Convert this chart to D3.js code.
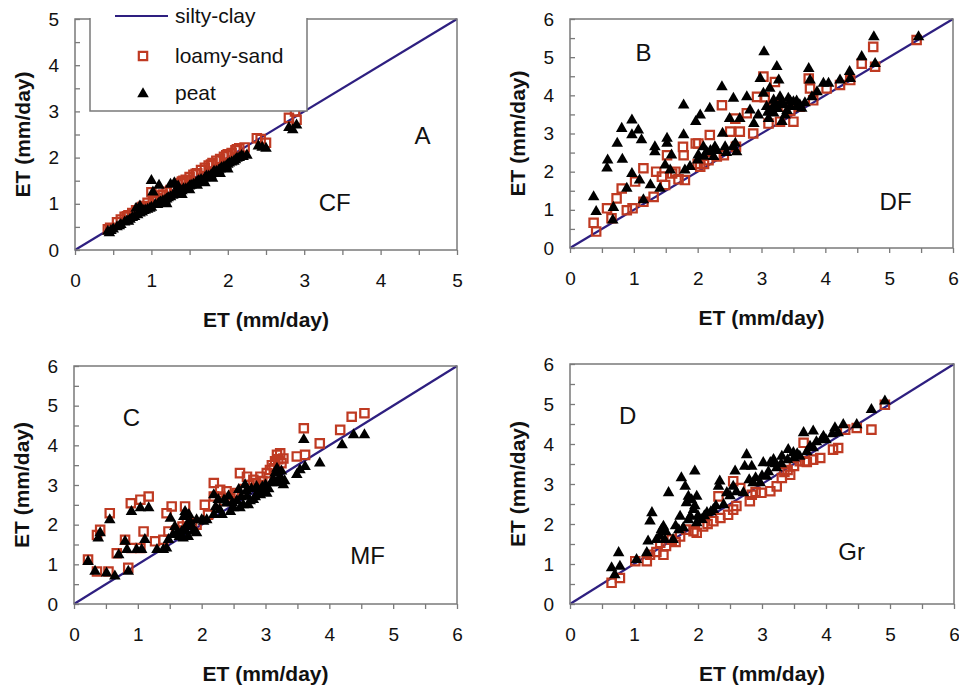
<!DOCTYPE html>
<html>
<head>
<meta charset="utf-8">
<script src="https://cdn.jsdelivr.net/npm/d3@7"></script>
<style>
  body { margin: 0; background: #fff; }
  svg text { font-family: "Liberation Sans", Arial, sans-serif; fill: #111; }
</style>
</head>
<body>
<div id="chart"></div>
<script>
// ET values, [x, y] in mm/day
const cfLoamy = [[0.43,0.45],[0.46,0.48],[0.55,0.6],[0.6,0.66],[0.65,0.72],[0.68,0.73],[0.7,0.75],[0.75,0.8],[0.8,0.86],[0.85,0.9],[0.88,0.93],[0.9,0.95],[0.95,1.02],[1.0,1.25],[1.02,1.06],[1.05,1.1],[1.08,1.12],[1.12,1.18],[1.15,1.2],[1.2,1.26],[1.25,1.3],[1.3,1.36],[1.35,1.42],[1.38,1.45],[1.4,1.48],[1.42,1.5],[1.45,1.52],[1.5,1.58],[1.55,1.63],[1.58,1.65],[1.6,1.66],[1.65,1.73],[1.7,1.78],[1.75,1.83],[1.78,1.85],[1.8,1.88],[1.85,1.93],[1.9,1.97],[1.95,2.02],[1.98,2.05],[2.0,2.07],[2.05,2.1],[2.1,2.16],[2.12,2.18],[2.15,2.2],[2.22,2.22],[2.38,2.42],[2.43,2.4],[2.5,2.32],[2.8,2.86],[2.88,3.0],[2.9,2.82]];
const cfPeat = [[0.43,0.4],[0.45,0.37],[0.47,0.42],[0.5,0.45],[0.55,0.5],[0.58,0.52],[0.6,0.55],[0.65,0.6],[0.68,0.63],[0.7,0.62],[0.72,0.66],[0.75,0.7],[0.78,0.72],[0.8,0.9],[0.82,0.76],[0.85,0.8],[0.85,0.95],[0.88,0.82],[0.9,0.85],[0.92,0.86],[0.95,0.88],[0.98,0.9],[1.0,1.5],[1.02,1.25],[1.0,0.92],[1.05,0.98],[1.08,0.98],[1.1,1.4],[1.1,1.02],[1.12,1.04],[1.15,1.06],[1.18,1.08],[1.2,1.1],[1.2,1.0],[1.22,1.13],[1.25,1.15],[1.25,1.42],[1.28,1.18],[1.3,1.45],[1.3,1.2],[1.32,1.23],[1.35,1.22],[1.35,1.38],[1.38,1.26],[1.4,1.28],[1.4,1.2],[1.42,1.32],[1.45,1.32],[1.48,1.34],[1.5,1.38],[1.5,1.3],[1.52,1.4],[1.55,1.42],[1.58,1.44],[1.6,1.48],[1.6,1.4],[1.62,1.5],[1.65,1.52],[1.68,1.5],[1.7,1.56],[1.7,1.45],[1.72,1.6],[1.75,1.6],[1.78,1.62],[1.8,1.65],[1.8,1.55],[1.82,1.7],[1.85,1.7],[1.88,1.72],[1.9,1.75],[1.9,1.65],[1.92,1.78],[1.95,1.8],[1.98,1.82],[2.0,1.85],[2.0,1.75],[2.02,1.88],[2.05,1.9],[2.08,1.92],[2.1,1.95],[2.12,1.98],[2.15,2.0],[2.18,2.04],[2.2,2.02],[2.25,2.05],[2.4,2.25],[2.45,2.22],[2.5,2.2],[2.8,2.65],[2.85,2.6],[2.9,2.7]];

const dfLoamy = [[0.37,0.66],[0.41,0.43],[0.58,1.04],[0.65,0.78],[0.73,1.3],[0.81,1.56],[0.89,0.99],[0.98,1.04],[1.02,1.74],[1.15,2.09],[1.15,1.21],[1.31,1.34],[1.35,2.0],[1.44,1.87],[1.49,1.65],[1.52,2.43],[1.6,1.95],[1.65,2.0],[1.7,1.8],[1.77,2.65],[1.78,2.43],[1.8,1.78],[1.97,2.74],[2.0,2.2],[2.01,2.74],[2.04,2.13],[2.1,2.2],[2.19,2.96],[2.17,2.3],[2.3,2.4],[2.38,3.74],[2.41,2.43],[2.51,3.05],[2.59,3.39],[2.6,2.65],[2.66,3.05],[2.77,3.53],[2.87,3.0],[2.93,3.96],[3.03,4.49],[3.05,3.95],[3.11,3.26],[3.19,3.7],[3.21,4.35],[3.25,3.75],[3.29,3.31],[3.34,3.7],[3.45,3.6],[3.5,3.31],[3.6,3.7],[3.74,4.44],[3.76,4.18],[3.81,3.87],[4.02,4.18],[4.23,4.27],[4.39,4.4],[4.57,4.83],[4.75,5.27],[4.78,4.75],[5.43,5.45]];
const dfPeat = [[0.37,1.34],[0.41,0.95],[0.59,2.3],[0.58,2.09],[0.68,1.06],[0.67,0.73],[0.74,2.74],[0.81,3.13],[0.82,2.32],[0.89,1.56],[0.97,3.35],[0.97,2.96],[0.97,1.95],[1.07,3.09],[1.12,2.83],[1.09,1.78],[1.15,1.26],[1.26,1.65],[1.33,2.65],[1.33,2.52],[1.41,1.56],[1.52,2.87],[1.52,2.74],[1.49,2.17],[1.57,2.04],[1.59,2.43],[1.78,3.74],[1.78,2.96],[1.8,2.04],[1.88,2.13],[1.97,3.31],[2.0,2.3],[2.04,3.48],[2.01,2.43],[2.09,2.65],[2.1,2.4],[2.14,2.52],[2.19,3.66],[2.2,2.55],[2.25,2.39],[2.27,2.65],[2.3,2.55],[2.38,4.22],[2.39,3.0],[2.43,2.65],[2.45,2.5],[2.5,3.39],[2.55,2.65],[2.56,3.92],[2.59,2.74],[2.61,2.52],[2.66,3.39],[2.77,3.96],[2.82,3.61],[2.88,3.26],[2.95,3.48],[2.98,4.44],[3.04,5.14],[3.03,4.05],[3.08,3.7],[3.1,3.55],[3.11,3.39],[3.13,4.18],[3.15,3.6],[3.19,3.87],[3.19,3.53],[3.2,3.75],[3.24,4.75],[3.25,3.65],[3.27,4.4],[3.29,3.96],[3.3,3.8],[3.32,3.31],[3.35,3.75],[3.37,3.48],[3.4,3.6],[3.42,3.92],[3.45,3.7],[3.45,3.85],[3.5,3.83],[3.55,3.7],[3.55,3.85],[3.6,3.75],[3.63,3.66],[3.68,3.8],[3.74,4.7],[3.76,4.4],[3.79,3.96],[3.87,4.09],[3.97,4.31],[4.05,4.31],[4.23,4.4],[4.38,4.62],[4.39,4.44],[4.57,5.01],[4.76,5.53],[4.78,4.83],[5.46,5.53]];

const mfLoamy = [[0.22,1.12],[0.36,1.74],[0.41,1.87],[0.56,2.29],[0.54,0.82],[0.36,0.82],[0.67,1.28],[0.8,1.62],[0.85,0.91],[0.89,2.54],[0.9,1.41],[1.04,2.63],[1.09,1.83],[1.17,2.71],[1.04,1.41],[1.27,1.58],[1.4,1.62],[1.45,2.29],[1.53,2.46],[1.48,1.83],[1.6,1.85],[1.7,1.95],[1.74,2.46],[1.77,2.08],[1.85,2.05],[1.92,2.0],[2.05,2.5],[2.1,2.25],[2.19,3.05],[2.19,2.71],[2.29,2.71],[2.29,2.88],[2.35,2.6],[2.39,2.84],[2.45,2.67],[2.5,2.75],[2.55,2.8],[2.6,3.3],[2.66,2.9],[2.71,3.21],[2.75,3.0],[2.81,3.13],[2.85,3.05],[2.92,3.21],[2.95,3.1],[3.02,3.3],[3.07,3.38],[3.1,3.5],[3.13,3.42],[3.15,3.6],[3.18,3.76],[3.2,3.65],[3.23,3.8],[3.25,3.55],[3.28,3.67],[3.49,3.72],[3.6,4.43],[3.62,3.76],[3.85,4.05],[4.17,4.39],[4.35,4.72],[4.55,4.81]];
const mfPeat = [[0.22,1.07],[0.33,0.82],[0.38,1.66],[0.41,1.79],[0.51,0.78],[0.56,2.12],[0.64,0.7],[0.7,1.24],[0.8,1.58],[0.85,0.82],[0.9,2.33],[0.83,1.37],[0.98,1.37],[1.04,2.42],[1.06,1.37],[1.11,1.62],[1.17,2.42],[1.3,1.37],[1.4,1.37],[1.45,1.41],[1.51,2.16],[1.48,1.62],[1.55,1.75],[1.58,1.95],[1.61,1.79],[1.65,1.7],[1.69,1.83],[1.71,1.66],[1.72,2.2],[1.74,2.33],[1.75,1.85],[1.77,2.0],[1.79,1.7],[1.8,2.25],[1.82,2.08],[1.85,1.95],[1.87,1.83],[1.92,1.79],[1.92,2.12],[2.0,2.12],[2.03,2.08],[2.08,2.12],[2.19,2.75],[2.19,2.25],[2.22,2.45],[2.26,2.63],[2.28,2.38],[2.32,2.25],[2.35,2.62],[2.39,2.54],[2.42,2.72],[2.45,2.33],[2.48,2.55],[2.5,2.42],[2.55,2.6],[2.58,2.88],[2.6,2.42],[2.62,2.7],[2.65,2.5],[2.68,3.0],[2.7,2.85],[2.71,2.71],[2.73,2.5],[2.76,2.6],[2.78,2.9],[2.81,2.63],[2.84,2.7],[2.86,2.96],[2.88,2.82],[2.92,2.75],[2.95,2.95],[2.97,2.84],[3.0,3.0],[3.02,2.79],[3.05,2.9],[3.1,3.05],[3.12,3.15],[3.15,3.3],[3.18,3.42],[3.2,3.1],[3.23,3.21],[3.18,3.05],[3.25,3.35],[3.28,3.0],[3.3,3.1],[3.49,3.26],[3.54,3.38],[3.6,4.14],[3.62,3.46],[3.85,3.55],[4.2,4.01],[4.38,4.26],[4.55,4.26]];

const grLoamy = [[0.65,0.53],[0.78,0.65],[1.02,1.07],[1.2,1.07],[1.25,1.23],[1.35,1.3],[1.46,1.23],[1.41,1.53],[1.5,1.45],[1.59,1.61],[1.65,1.55],[1.72,1.69],[1.82,1.86],[1.93,1.82],[1.98,1.78],[2.08,1.94],[2.15,2.0],[2.24,2.07],[2.32,2.69],[2.35,2.15],[2.47,2.23],[2.55,2.36],[2.55,3.07],[2.6,2.45],[2.66,2.9],[2.81,2.57],[2.84,2.73],[2.9,2.8],[2.99,2.78],[3.13,2.82],[3.23,2.94],[3.31,3.15],[3.35,3.3],[3.4,3.35],[3.44,3.23],[3.5,3.45],[3.59,3.57],[3.67,3.57],[3.65,4.03],[3.7,3.55],[3.8,3.61],[3.91,3.65],[4.11,3.86],[4.19,3.9],[4.3,4.36],[4.48,4.4],[4.71,4.36],[4.92,4.98]];
const grPeat = [[0.65,0.9],[0.7,0.73],[0.76,1.28],[0.78,0.94],[1.04,1.11],[1.2,1.28],[1.22,1.57],[1.25,2.07],[1.28,2.28],[1.35,1.61],[1.4,1.7],[1.43,1.86],[1.46,1.94],[1.48,1.61],[1.5,1.8],[1.54,2.78],[1.61,1.61],[1.65,1.95],[1.7,1.85],[1.72,2.19],[1.74,3.15],[1.77,1.9],[1.8,2.94],[1.82,2.53],[1.85,2.69],[1.85,2.1],[1.88,2.19],[1.9,2.6],[1.93,2.36],[1.95,3.32],[1.95,2.45],[1.98,2.69],[1.98,2.03],[2.0,2.2],[2.06,2.11],[2.1,2.2],[2.14,2.28],[2.2,2.3],[2.24,2.36],[2.28,2.45],[2.32,2.94],[2.34,3.07],[2.4,2.48],[2.45,2.78],[2.5,2.7],[2.58,3.32],[2.55,2.94],[2.6,2.8],[2.71,2.78],[2.76,3.73],[2.73,3.44],[2.8,3.1],[2.84,3.44],[2.86,3.03],[2.9,3.15],[2.97,3.03],[3.0,3.2],[3.02,3.53],[3.07,3.19],[3.1,3.3],[3.13,3.53],[3.18,3.61],[3.2,3.5],[3.23,3.4],[3.3,3.5],[3.31,3.69],[3.4,3.6],[3.41,3.86],[3.49,3.78],[3.5,3.65],[3.55,3.75],[3.59,3.69],[3.65,4.28],[3.7,3.8],[3.75,3.94],[3.8,4.32],[3.8,3.9],[3.85,4.05],[3.93,4.11],[3.96,4.19],[4.0,4.1],[4.1,4.25],[4.14,4.4],[4.19,4.28],[4.27,4.48],[4.48,4.48],[4.71,4.86],[4.92,5.07]];

const panelLetters = ["A", "B", "C", "D"];
const panelCovers = ["CF", "DF", "MF", "Gr"];
const axisMax = [5, 6, 6, 6];
const seriesNames = ["silty-clay", "loamy-sand", "peat"];
const axisTitle = "ET (mm/day)";

const width = 959;
const height = 689;

const panels = [
  { loamy: cfLoamy, peat: cfPeat, left: 75, right: 457, top: 19, bottom: 250, letterAt: [4.55, 2.3], coverAt: [3.4, 0.85] },
  { loamy: dfLoamy, peat: dfPeat, left: 570, right: 953, top: 19, bottom: 248, letterAt: [1.15, 4.9], coverAt: [5.1, 1.0] },
  { loamy: mfLoamy, peat: mfPeat, left: 74, right: 457, top: 366, bottom: 604, letterAt: [0.9, 4.5], coverAt: [4.6, 1.0] },
  { loamy: grLoamy, peat: grPeat, left: 570, right: 954, top: 364, bottom: 604, letterAt: [0.9, 4.5], coverAt: [4.4, 1.1] }
];

const red = "#bf3a22";
const navy = "#2e1f80";
const frame = "#7a7a7a";

const svg = d3.select("#chart")
  .append("svg")
  .attr("width", width)
  .attr("height", height);

const square = d3.symbol().type(d3.symbolSquare).size(70);
const triangle = d3.symbol().type(d3.symbolTriangle).size(58);

panels.forEach((p, i) => {
  const max = axisMax[i];
  const x = d3.scaleLinear().domain([0, max]).range([p.left, p.right]);
  const y = d3.scaleLinear().domain([0, max]).range([p.bottom, p.top]);
  const g = svg.append("g");

  const steps = d3.range(0, max + 0.01, 0.5);
  const fmt = d => Number.isInteger(d) ? d : "";

  const xAxis = d3.axisBottom(x).tickValues(steps).tickFormat(fmt)
    .tickSizeInner(5).tickSizeOuter(0).tickPadding(19);
  g.append("g")
    .attr("transform", `translate(0,${p.bottom})`)
    .call(xAxis)
    .call(a => a.select(".domain").remove())
    .call(a => a.selectAll("line").attr("stroke", frame).attr("stroke-width", 1.3))
    .call(a => a.selectAll("text").attr("font-size", 19).attr("fill", "#111"));

  const yAxis = d3.axisLeft(y).tickValues(steps).tickFormat(fmt)
    .tickSizeInner(-5).tickSizeOuter(0).tickPadding(16);
  g.append("g")
    .attr("transform", `translate(${p.left},0)`)
    .call(yAxis)
    .call(a => a.select(".domain").remove())
    .call(a => a.selectAll("line").attr("stroke", frame).attr("stroke-width", 1.3))
    .call(a => a.selectAll("text").attr("font-size", 19).attr("fill", "#111"));

  // 1:1 line (silty-clay)
  g.append("line")
    .attr("x1", x(0)).attr("y1", y(0))
    .attr("x2", x(max)).attr("y2", y(max))
    .attr("stroke", navy)
    .attr("stroke-width", 2.2);

  g.append("g").selectAll("path")
    .data(p.loamy)
    .join("path")
    .attr("d", square)
    .attr("transform", d => `translate(${x(d[0])},${y(d[1])})`)
    .attr("fill", "none")
    .attr("stroke", red)
    .attr("stroke-width", 2.2);

  g.append("g").selectAll("path")
    .data(p.peat)
    .join("path")
    .attr("d", triangle)
    .attr("transform", d => `translate(${x(d[0])},${y(d[1])})`)
    .attr("fill", "#000");

  g.append("rect")
    .attr("x", p.left).attr("y", p.top)
    .attr("width", p.right - p.left).attr("height", p.bottom - p.top)
    .attr("fill", "none")
    .attr("stroke", frame)
    .attr("stroke-width", 1.5);

  g.append("text")
    .attr("x", (p.left + p.right) / 2)
    .attr("y", p.bottom + 77)
    .attr("text-anchor", "middle")
    .attr("font-size", 21)
    .attr("font-weight", "bold")
    .text(axisTitle);

  g.append("text")
    .attr("transform", `translate(${p.left - 45},${(p.top + p.bottom) / 2}) rotate(-90)`)
    .attr("text-anchor", "middle")
    .attr("font-size", 21)
    .attr("font-weight", "bold")
    .text(axisTitle);

  g.append("text")
    .attr("x", x(p.letterAt[0])).attr("y", y(p.letterAt[1]))
    .attr("text-anchor", "middle")
    .attr("font-size", 24)
    .text(panelLetters[i]);

  g.append("text")
    .attr("x", x(p.coverAt[0])).attr("y", y(p.coverAt[1]))
    .attr("text-anchor", "middle")
    .attr("font-size", 24)
    .text(panelCovers[i]);
});

// legend in panel A
const leg = svg.append("g");
leg.append("rect")
  .attr("x", 90).attr("y", 0).attr("width", 217).attr("height", 111)
  .attr("fill", "#fff");
leg.append("path")
  .attr("d", "M90,18V111H307V18")
  .attr("fill", "none")
  .attr("stroke", frame)
  .attr("stroke-width", 1.5);

leg.append("line")
  .attr("x1", 115).attr("x2", 168).attr("y1", 16).attr("y2", 16)
  .attr("stroke", navy).attr("stroke-width", 2.2);
leg.append("path")
  .attr("d", square)
  .attr("transform", "translate(143,56)")
  .attr("fill", "none").attr("stroke", red).attr("stroke-width", 2.2);
leg.append("path")
  .attr("d", triangle)
  .attr("transform", "translate(143,94)")
  .attr("fill", "#000");

leg.selectAll("text.lab")
  .data(seriesNames)
  .join("text")
  .attr("class", "lab")
  .attr("x", 175)
  .attr("y", (d, i) => [23, 63, 100][i])
  .attr("font-size", 21)
  .text(d => d);
</script>
</body>
</html>
